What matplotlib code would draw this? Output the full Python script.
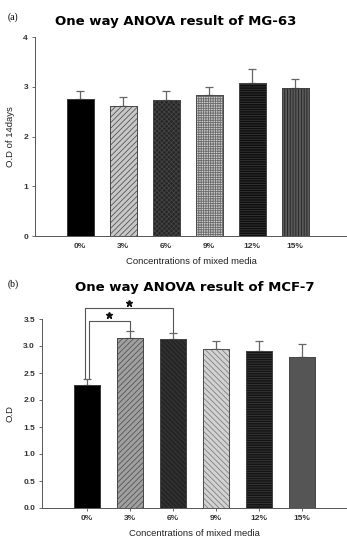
import matplotlib
matplotlib.use("Agg")
import matplotlib.pyplot as plt
import numpy as np

categories = ["0%", "3%", "6%", "9%", "12%", "15%"]
mg63_mean = [2.75, 2.62, 2.74, 2.83, 3.08, 2.98]
mg63_err = [0.16, 0.17, 0.18, 0.17, 0.28, 0.17]
mcf7_mean = [2.28, 3.15, 3.13, 2.95, 2.90, 2.80]
mcf7_err = [0.11, 0.13, 0.11, 0.15, 0.20, 0.24]

plt.rcParams['font.family'] = ['Liberation Sans', 'DejaVu Sans']
plt.rcParams['hatch.linewidth'] = 0.6

fig = plt.figure(figsize=(3.47, 5.38), dpi=100)

top_styles = [
    dict(fc='#000000', ec='#000000', hatch=None),
    dict(fc='#c8c8c8', ec='#555555', hatch='//////'),
    dict(fc='#262626', ec='#444444', hatch='xxxxxxx'),
    dict(fc='#d0d0d0', ec='#6a6a6a', hatch='+++++++'),
    dict(fc='#0e0e0e', ec='#383838', hatch='-------'),
    dict(fc='#5a5a5a', ec='#222222', hatch='||||||'),
]
bot_styles = [
    dict(fc='#000000', ec='#000000', hatch=None),
    dict(fc='#a0a0a0', ec='#555555', hatch='//////'),
    dict(fc='#262626', ec='#3a3a3a', hatch='\\\\\\\\\\\\\\'),
    dict(fc='#d2d2d2', ec='#808080', hatch='\\\\\\\\\\\\'),
    dict(fc='#141414', ec='#3a3a3a', hatch='-------'),
    dict(fc='#555555', ec='#555555', hatch=None),
]

def draw(ax, means, errs, styles, width, xticks_marks=True):
    x = np.arange(len(categories))
    for i in range(len(categories)):
        s = styles[i]
        ax.bar(x[i], means[i], width=width, color=s['fc'], edgecolor=s['ec'],
               hatch=s['hatch'], linewidth=0.6, zorder=2)
        ax.bar(x[i], means[i], width=width, color='none', edgecolor='#444444',
               linewidth=0.6, zorder=3)
    ax.errorbar(x, means, yerr=[np.zeros(len(errs)), errs], fmt='none',
                ecolor='#666666', elinewidth=0.9, capsize=3, capthick=0.9, zorder=1)
    ax.set_xticks(x)
    ax.set_xticklabels(categories, fontsize=6, fontweight='bold', color='#333333')
    for sp in ['top', 'right']:
        ax.spines[sp].set_visible(False)
    for sp in ['left', 'bottom']:
        ax.spines[sp].set_color('#555555')
        ax.spines[sp].set_linewidth(0.7)
    ax.tick_params(axis='both', labelsize=6, length=2.5, width=0.6, color='#555555',
                   pad=2.5, labelcolor='#333333')
    if not xticks_marks:
        ax.tick_params(axis='x', length=0, pad=5)
    ax.set_xlabel("Concentrations of mixed media", fontsize=6.8, labelpad=5, color='#222222')

# top panel
ax1 = fig.add_axes([35/347, 1-236/538, 1-35/347, (236-37)/538])
ax1.set_ylim(0, 4)
ax1.set_yticks([0, 1, 2, 3, 4])
draw(ax1, mg63_mean, mg63_err, top_styles, 0.62, xticks_marks=False)
ax1.set_xlim(-1.05, 6.2)
for lab in ax1.get_yticklabels():
    lab.set_fontweight('bold')
ax1.set_ylabel("O.D of 14days", fontsize=6.8, labelpad=6, color='#222222')
fig.text(55/347, 1-22/538, "One way ANOVA result of MG-63", fontsize=9.5,
         fontweight='bold', family=['DejaVu Sans'], va='center', ha='left')
fig.text(8/347, 1-17/538, "(a)", fontsize=7, family=['Liberation Serif'], va='center')

# bottom panel
ax2 = fig.add_axes([42/347, 30/538, 1-42/347, (508-319)/538])
ax2.set_ylim(0, 3.5)
ax2.set_yticks(np.arange(0, 3.51, 0.5))
ax2.set_yticklabels([f"{v:.1f}" for v in np.arange(0, 3.51, 0.5)])
draw(ax2, mcf7_mean, mcf7_err, bot_styles, 0.6)
ax2.set_xlim(-1.05, 6.05)
for lab in ax2.get_yticklabels():
    lab.set_fontweight('bold')
ax2.set_ylabel("O.D", fontsize=6.8, labelpad=6, color='#222222')
fig.text(75/347, 1-287/538, "One way ANOVA result of MCF-7", fontsize=9.5,
         fontweight='bold', family=['DejaVu Sans'], va='center', ha='left')
fig.text(8/347, 1-284/538, "(b)", fontsize=7, family=['Liberation Serif'], va='center')

# significance brackets
brackets = [(0.04, 1, 3.47, 2.41, 3.30), (-0.04, 2, 3.70, 2.41, 3.26)]
for xl, xr, yh, yl_l, yl_r in brackets:
    ax2.plot([xl, xl, xr, xr], [yl_l, yh, yh, yl_r], color='#555555', lw=0.8,
             clip_on=False, zorder=4)
    ax2.plot([(xl + xr) / 2], [yh + 0.1], marker='*', color='#111111',
             markersize=4.5, clip_on=False, zorder=5, linestyle='none')

fig.savefig("out.png", dpi=100)
